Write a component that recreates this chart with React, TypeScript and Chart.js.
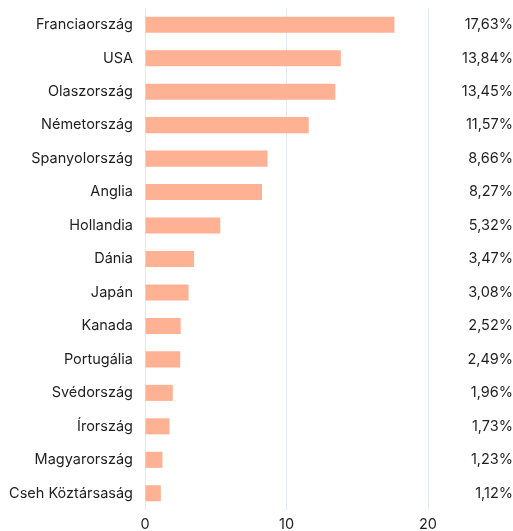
import React, { useEffect, useRef } from "react";
import { Chart, registerables } from "chart.js";

Chart.register(...registerables);

const categories = [
  "Franciaország",
  "USA",
  "Olaszország",
  "Németország",
  "Spanyolország",
  "Anglia",
  "Hollandia",
  "Dánia",
  "Japán",
  "Kanada",
  "Portugália",
  "Svédország",
  "Írország",
  "Magyarország",
  "Cseh Köztársaság",
];

const values = [17.63, 13.84, 13.45, 11.57, 8.66, 8.27, 5.32, 3.47, 3.08, 2.52, 2.49, 1.96, 1.73, 1.23, 1.12];

const valueLabels = values.map((v) => v.toFixed(2).replace(".", ",") + "%");

const xTicks = [0, 10, 20];

export default function App() {
  const ref = useRef<HTMLCanvasElement | null>(null);

  useEffect(() => {
    if (!ref.current) return;
    const font = { family: "Inter", size: 14.5 };
    const fixPad = (s: any) => {
      s.paddingTop = 8;
      s.paddingBottom = 0;
    };
    const chart = new Chart(ref.current, {
      type: "bar",
      data: {
        labels: categories,
        datasets: [
          {
            data: values,
            backgroundColor: "#FFB194",
            borderWidth: 0,
            barPercentage: 0.48,
            categoryPercentage: 1,
            yAxisID: "y",
          },
        ],
      },
      options: {
        indexAxis: "y",
        animation: false,
        responsive: false,
        maintainAspectRatio: false,
        layout: { padding: { top: 0, left: 0, right: 0, bottom: 0 } },
        plugins: { legend: { display: false }, tooltip: { enabled: false } },
        scales: {
          x: {
            min: xTicks[0],
            max: xTicks[xTicks.length - 1],
            afterBuildTicks: (s: any) => {
              s.ticks = xTicks.map((v) => ({ value: v }));
            },
            grid: { color: "#e4e8ef", drawTicks: false, lineWidth: 1 },
            border: { display: false },
            ticks: { font, color: "#1f1f1f", padding: 6 },
            afterFit: (s: any) => {
              s.height = 21;
            },
          },
          y: {
            position: "left",
            grid: { display: false, drawTicks: false },
            border: { display: false },
            ticks: { font, color: "#1f1f1f", padding: 12 },
            afterFit: (s: any) => {
              s.width = 145;
              fixPad(s);
            },
          },
          y2: {
            type: "category",
            position: "right",
            labels: valueLabels,
            offset: true,
            grid: { display: false, drawTicks: false },
            border: { display: false },
            ticks: { font, color: "#1f1f1f", crossAlign: "far", padding: 0 },
            afterFit: (s: any) => {
              s.width = 85;
              fixPad(s);
            },
          },
        },
      },
    });
    return () => chart.destroy();
  }, []);

  return (
    <div style={{ position: "absolute", left: 0, top: 0, width: 513, height: 531 }}>
      <canvas ref={ref} width={513} height={531} style={{ display: "block" }} />
    </div>
  );
}
